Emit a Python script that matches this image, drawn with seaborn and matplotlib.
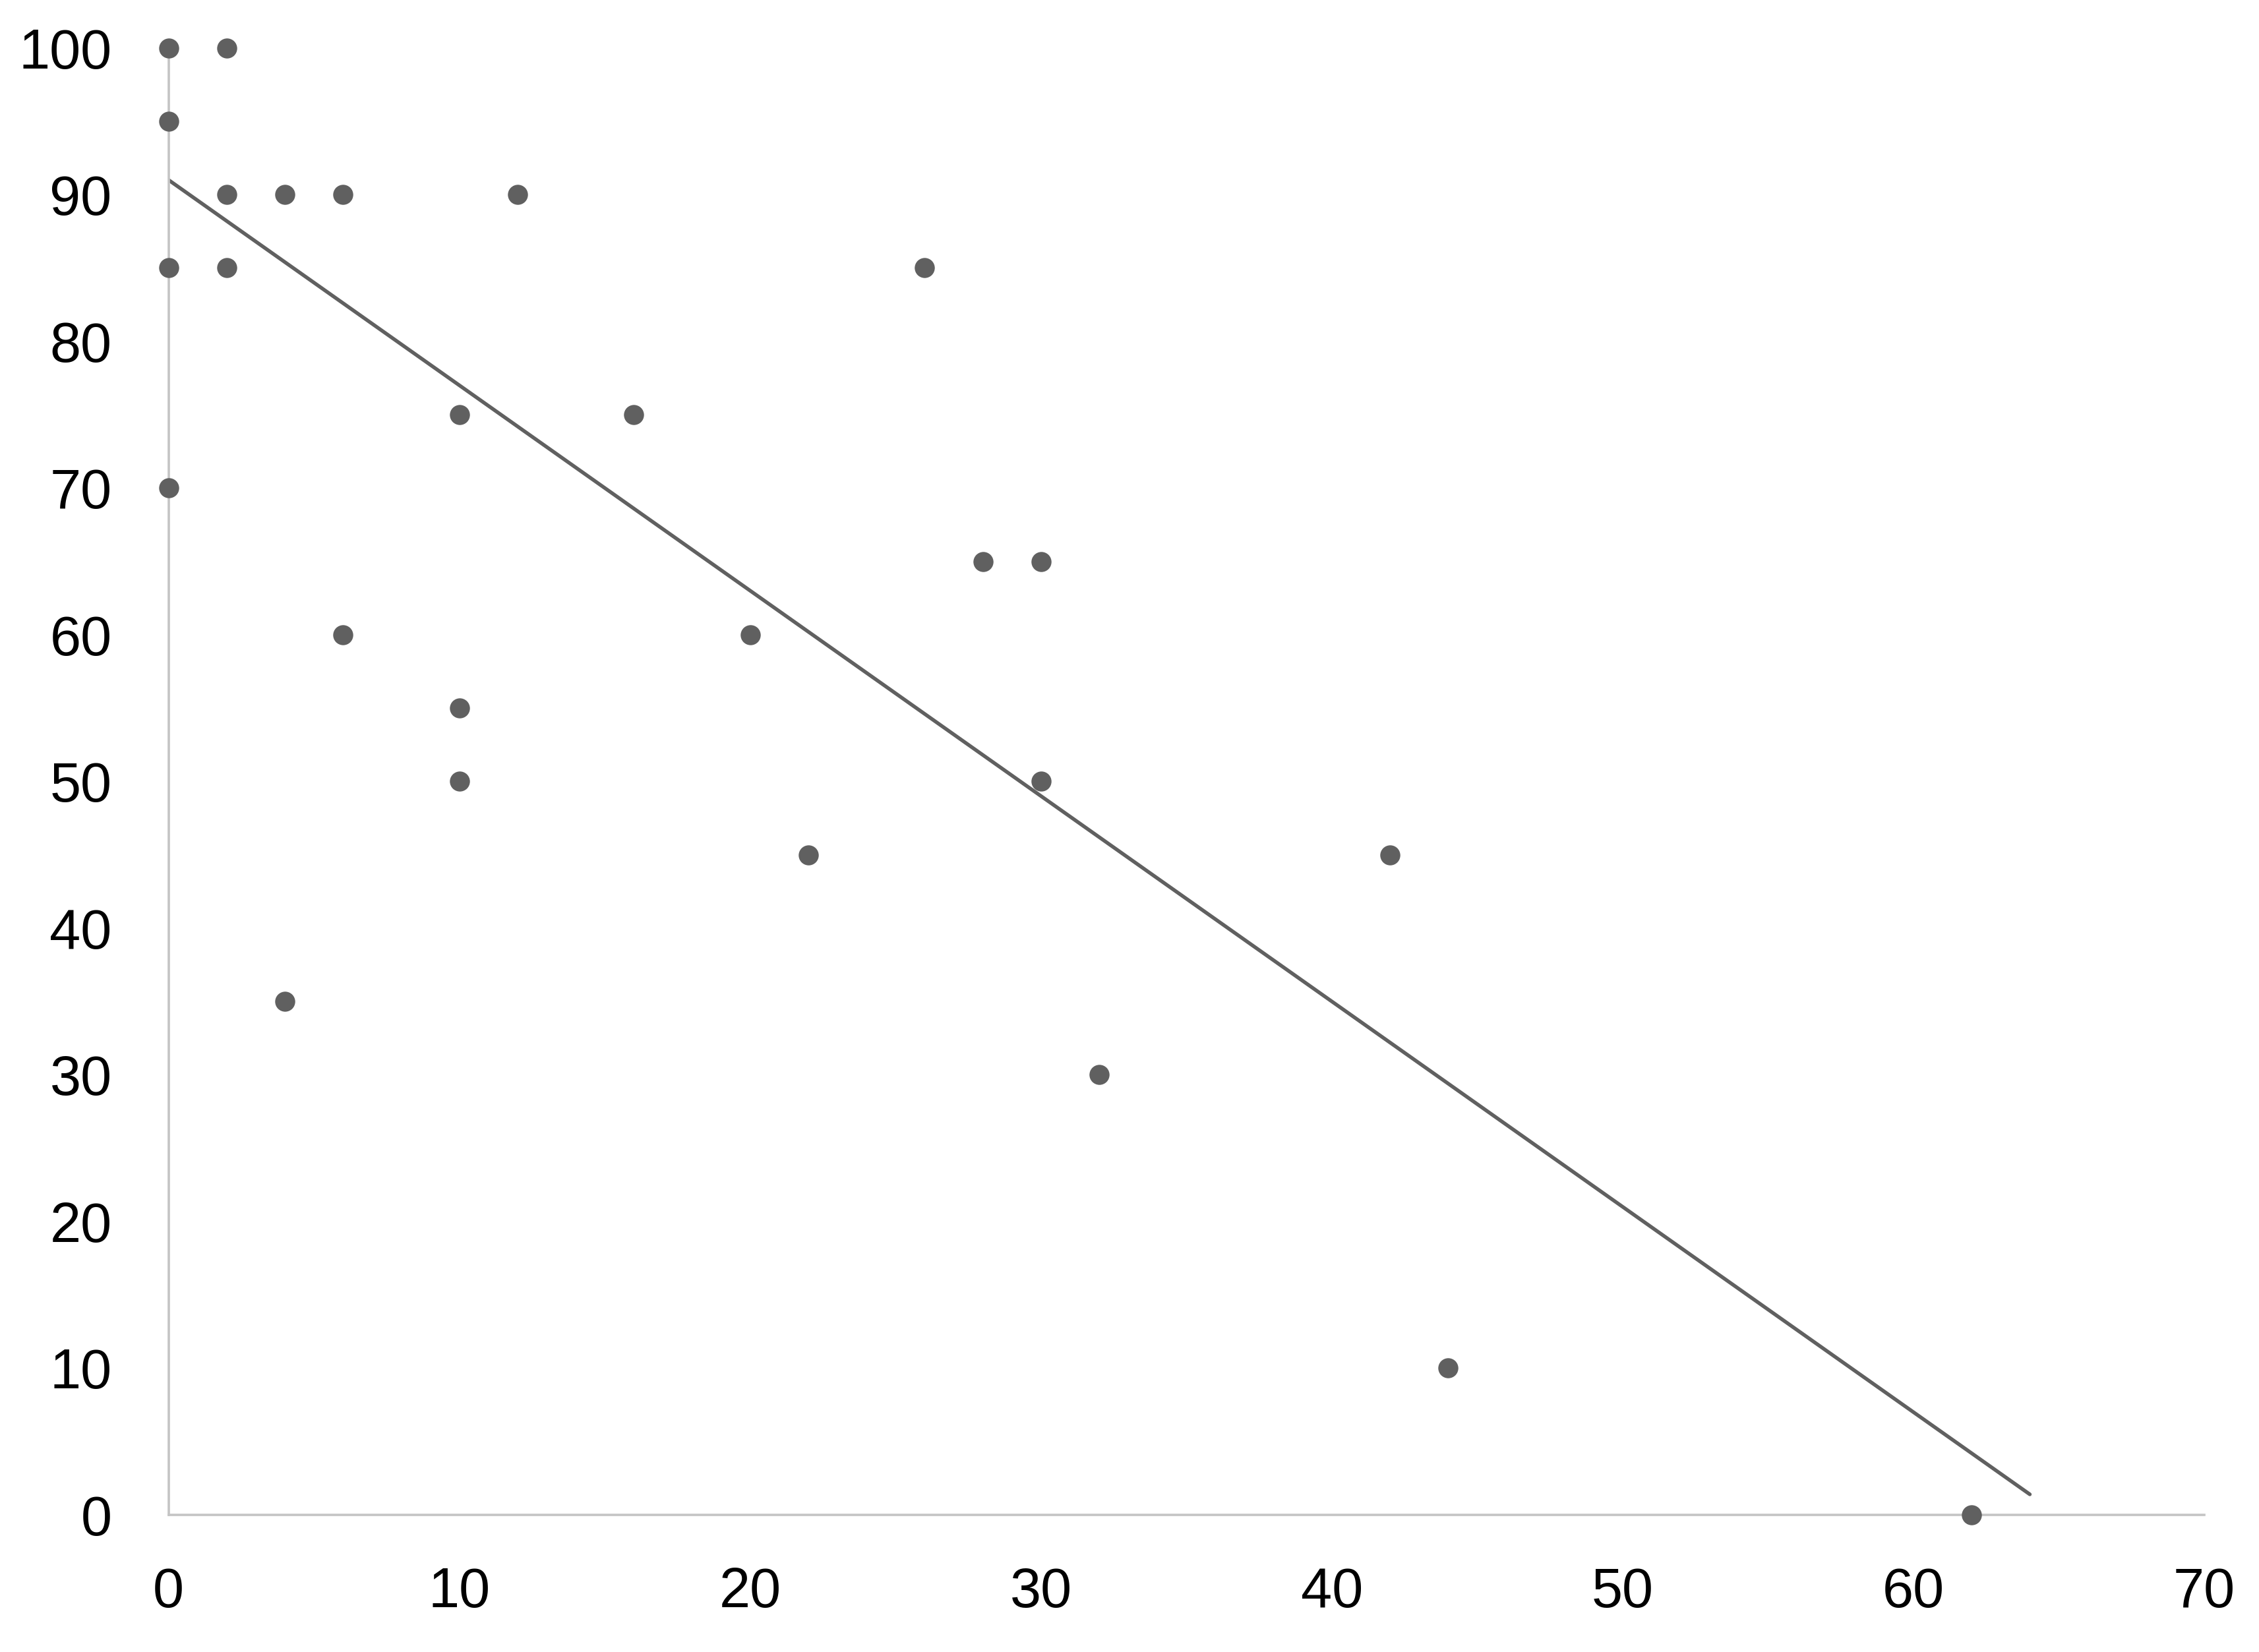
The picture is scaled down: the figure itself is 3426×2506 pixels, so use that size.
import matplotlib
matplotlib.use("Agg")
import matplotlib.pyplot as plt
import seaborn as sns
import pandas as pd

# data
x_vals = [0, 2, 0, 2, 4, 6, 12, 0, 2, 26, 10, 16, 0, 28, 30, 6, 20, 10, 10, 30, 22, 42, 4, 32, 44, 62]
y_vals = [100, 100, 95, 90, 90, 90, 90, 85, 85, 85, 75, 75, 70, 65, 65, 60, 60, 55, 50, 50, 45, 45, 35, 30, 10, 0]
trend_x = [0, 64]
trend_y = [91.0, 1.4]
x_ticks = [0, 10, 20, 30, 40, 50, 60, 70]
y_ticks = [0, 10, 20, 30, 40, 50, 60, 70, 80, 90, 100]

sns.set_style("white")
plt.rcParams['font.family'] = ['Liberation Sans', 'DejaVu Sans']

fig = plt.figure(figsize=(17.13, 12.53), dpi=200)
ax = fig.add_axes([0.0746, 0.083, 0.9012, 0.888])

df = pd.DataFrame({"x": x_vals, "y": y_vals})
tdf = pd.DataFrame({"x": trend_x, "y": trend_y})

sns.lineplot(data=tdf, x="x", y="y", ax=ax, color="#606060", linewidth=2.0,
             solid_capstyle="round", zorder=2)
sns.scatterplot(data=df, x="x", y="y", ax=ax, color="#606060", s=120,
                linewidth=0, clip_on=False, zorder=3)

ax.set_xlim(0, 70)
ax.set_ylim(0, 100)
ax.set_xticks(x_ticks)
ax.set_yticks(y_ticks)
ax.set_xlabel("")
ax.set_ylabel("")
ax.tick_params(axis="both", length=0, labelsize=30.5, colors="black")
ax.tick_params(axis="x", pad=28)
ax.tick_params(axis="y", pad=31)

for s in ["top", "right"]:
    ax.spines[s].set_visible(False)
for s in ["left", "bottom"]:
    ax.spines[s].set_color("#c4c4c4")
    ax.spines[s].set_linewidth(1.3)
ax.grid(False)

fig.savefig("out.png", dpi=200, facecolor="white")
